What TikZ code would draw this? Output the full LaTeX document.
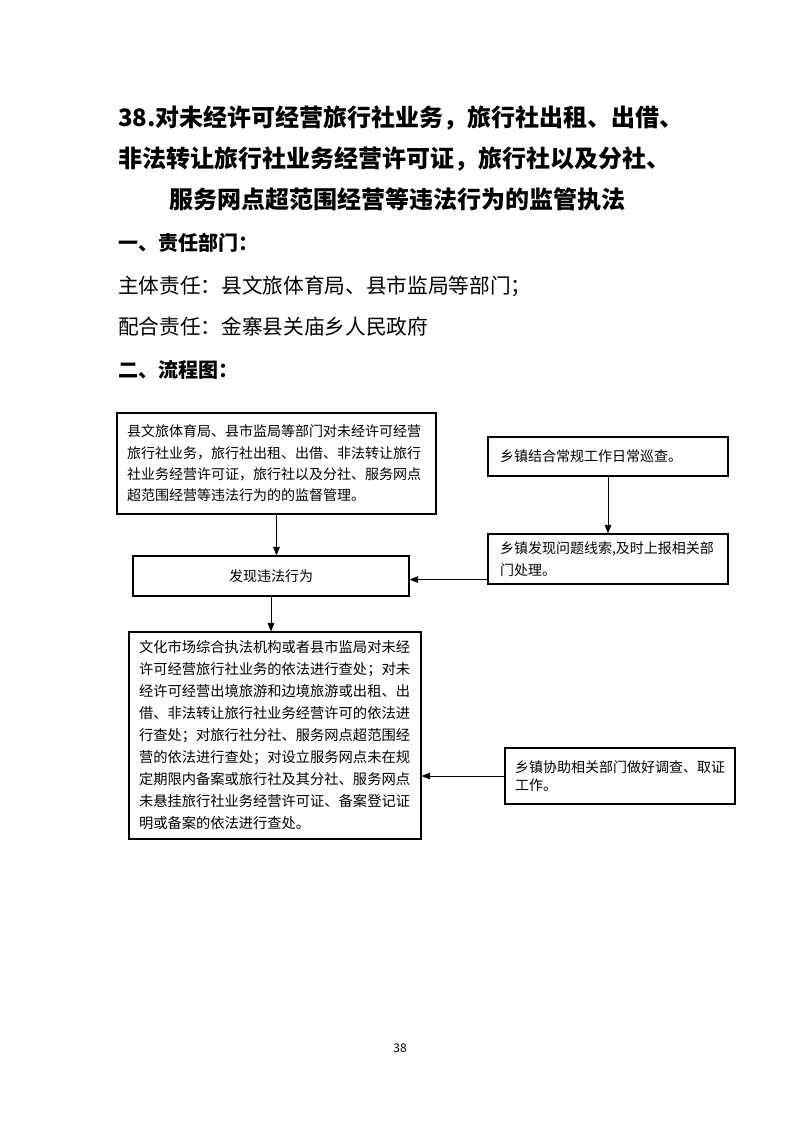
\documentclass[tikz,border=0pt]{standalone}
\usepackage{fontspec}
\setmainfont{Noto Sans CJK SC}
\usetikzlibrary{arrows.meta,calc}

\begin{document}
\begin{tikzpicture}[
                x=0.75pt, y=-0.75pt,
                box/.style={draw, line width=0.8pt, inner ysep=0pt, align=left,
                            font=\fontsize{10.5}{16}\selectfont},
                arr/.style={-{Triangle[length=6.5pt,width=5pt]}, line width=0.7pt},
                title/.style={anchor=west, inner sep=0pt, font=\fontsize{18}{18}\selectfont\bfseries},
                head/.style={anchor=west, inner sep=0pt, font=\fontsize{15}{15}\selectfont\bfseries},
                body/.style={anchor=west, inner sep=0pt, font=\fontsize{15.5}{15.5}\selectfont}
            ]
            \useasboundingbox (0,0) rectangle (793,1122);

            % 标题
            \node[title] (t1) at (118,118) {38.对未经许可经营旅行社业务，旅行社出租、出借、};
            \node[title] (t2) at (118,159) {非法转让旅行社业务经营许可证，旅行社以及分社、};
            \node[title, anchor=center] (t3) at (397,199) {服务网点超范围经营等违法行为的监管执法};

            % 责任部门
            \node[head] (h1) at (118,243) {一、责任部门：};
            \node[body] (zt) at (118,286) {主体责任：县文旅体育局、县市监局等部门；};
            \node[body] (ph) at (118,327) {配合责任：金寨县关庙乡人民政府};
            \node[head] (h2) at (118,370) {二、流程图：};

            % 流程框
            \node[box, minimum height=75.75pt, text width=224.25pt, inner xsep=7.5pt] (jg) at (276.5,463.5)
                {县文旅体育局、县市监局等部门对未经许可经营\\
                 旅行社业务，旅行社出租、出借、非法转让旅行\\
                 社业务经营许可证，旅行社以及分社、服务网点\\
                 超范围经营等违法行为的的监督管理。};
            \node[box, minimum height=29.25pt, text width=162pt, inner xsep=9pt] (xc) at (608,456.5)
                {乡镇结合常规工作日常巡查。};
            \node[box, minimum height=37.5pt, text width=162pt, inner xsep=9pt,
                  font=\fontsize{10.5}{16.5}\selectfont] (sb) at (608,559)
                {乡镇发现问题线索,及时上报相关部\\门处理。};
            \node[box, minimum height=30pt, text width=200pt, align=center, inner xsep=3.5pt] (fx) at (271,576)
                {发现违法行为};
            \node[box, minimum height=155.25pt, text width=204pt, inner xsep=7.5pt,
                  font=\fontsize{10.7}{16.5}\selectfont] (cc) at (275,735.5)
                {文化市场综合执法机构或者县市监局对未经\\
                 许可经营旅行社业务的依法进行查处；对未\\
                 经许可经营出境旅游和边境旅游或出租、出\\
                 借、非法转让旅行社业务经营许可的依法进\\
                 行查处；对旅行社分社、服务网点超范围经\\
                 营的依法进行查处；对设立服务网点未在规\\
                 定期限内备案或旅行社及其分社、服务网点\\
                 未悬挂旅行社业务经营许可证、备案登记证\\
                 明或备案的依法进行查处。};
            \node[box, minimum height=42pt, text width=157.5pt, inner xsep=7.5pt,
                  font=\fontsize{10.5}{14}\selectfont] (xz) at (620,776)
                {乡镇协助相关部门做好调查、取证\\工作。};

            % 连线
            \draw[arr] (jg.south) -- (jg.south |- fx.north);
            \draw[arr] (xc.south) -- (xc.south |- sb.north);
            \coordinate (sbl) at ($(sb.south west)+(0,-5)$);
            \draw[arr] (sbl) -- (sbl -| fx.east);
            \draw[arr] (fx.south) -- (fx.south |- cc.north);
            \draw[arr] (xz.west) -- (xz.west -| cc.east);

            % 页码
            \node[font=\fontsize{9}{9}\selectfont] (pg) at (400,1048) {38};
        \end{tikzpicture}
\end{document}
